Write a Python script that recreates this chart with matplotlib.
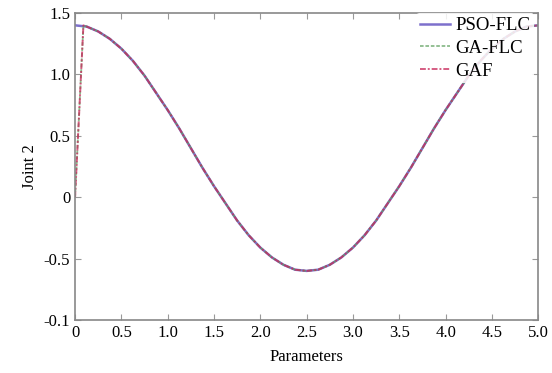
import matplotlib.pyplot as plt

plt.rcParams['font.family'] = ['Liberation Serif', 'DejaVu Serif']

# Parametros (eje x) y respuesta de la articulacion 2
parametros = [0.0, 0.125, 0.25, 0.375, 0.5, 0.625, 0.75, 0.875, 1.0, 1.125,
              1.25, 1.375, 1.5, 1.625, 1.75, 1.875, 2.0, 2.125, 2.25, 2.375,
              2.5, 2.625, 2.75, 2.875, 3.0, 3.125, 3.25, 3.375, 3.5, 3.625,
              3.75, 3.875, 4.0, 4.125, 4.25, 4.375, 4.5, 4.625, 4.75, 4.875, 5.0]
joint2 = [1.40, 1.39, 1.35, 1.29, 1.21, 1.11, 0.99, 0.85, 0.71, 0.56,
          0.40, 0.24, 0.09, -0.05, -0.19, -0.31, -0.41, -0.49, -0.55, -0.59,
          -0.60, -0.59, -0.55, -0.49, -0.41, -0.31, -0.19, -0.05, 0.09, 0.24,
          0.40, 0.56, 0.71, 0.85, 0.99, 1.11, 1.21, 1.29, 1.35, 1.39, 1.40]

# GA-FLC y GAF arrancan desde cero
x_arranque = [0.0, 0.09]
y_arranque = [0.0, 1.40]
x_ga = x_arranque + parametros[1:]
y_ga = y_arranque + joint2[1:]

yticks = [-1.0, -0.5, 0.0, 0.5, 1.0, 1.5]
ytick_labels = ['-0.1', '-0.5', '0', '0.5', '1.0', '1.5']
xticks = [0, 0.5, 1.0, 1.5, 2.0, 2.5, 3.0, 3.5, 4.0, 4.5, 5.0]
xtick_labels = ['0', '0.5', '1.0', '1.5', '2.0', '2.5', '3.0', '3.5', '4.0', '4.5', '5.0']

fig = plt.figure(figsize=(5.52, 3.73), dpi=100)
ax = fig.add_axes([0.136, 0.142, 0.839, 0.823])

ax.plot(parametros, joint2, color='#7d70cc', lw=1.8, label='PSO-FLC')
ax.plot(x_ga, y_ga, color='#5a9e5a', lw=1.3, ls=(0, (2, 1)), label='GA-FLC', alpha=0.7)
ax.plot(x_ga, y_ga, color='#c8285a', lw=1.4, ls=(0, (3, 1, 1, 1)), label='GAF', alpha=0.75)

ax.set_xlim(0, 5)
ax.set_ylim(-1, 1.5)
ax.set_xticks(xticks)
ax.set_xticklabels(xtick_labels)
ax.set_yticks(yticks)
ax.set_yticklabels(ytick_labels)
ax.tick_params(direction='in', top=True, right=True, labelsize=12,
               color='#999999', length=4)
for s in ax.spines.values():
    s.set_color('#888888')
    s.set_linewidth(1.2)

ax.set_xlabel('Parameters', fontsize=12, labelpad=6)
ax.set_ylabel('Joint 2', fontsize=12)

leg = ax.legend(loc='upper right', bbox_to_anchor=(1.012, 1.03), fontsize=13.5,
                frameon=True, handlelength=1.6, handletextpad=0.3,
                labelspacing=0.3, borderpad=0.2)
leg.get_frame().set_edgecolor('none')
leg.get_frame().set_alpha(0.85)

fig.savefig('out.png', dpi=100)
